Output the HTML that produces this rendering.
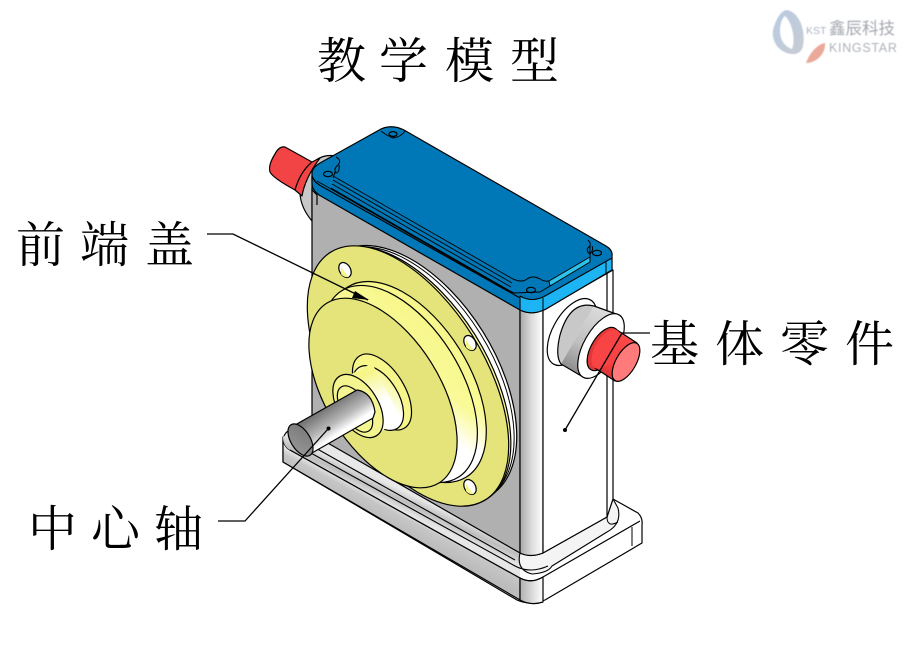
<!DOCTYPE html>
<html><head><meta charset="utf-8"><style>
html,body{margin:0;padding:0;background:#fff;width:908px;height:654px;overflow:hidden}
svg{display:block}
.t{font-family:"Liberation Serif","Noto Serif CJK SC",serif;font-size:49px;fill:#000}
</style></head><body>
<svg width="908" height="654" viewBox="0 0 908 654" xmlns="http://www.w3.org/2000/svg">
<defs>
<linearGradient id="corner" gradientUnits="userSpaceOnUse" x1="520" y1="0" x2="543" y2="0"><stop offset="0" stop-color="#a8a8a8"/><stop offset=".5" stop-color="#dcdcdc"/><stop offset="1" stop-color="#fff"/></linearGradient>
<linearGradient id="corner2" gradientUnits="userSpaceOnUse" x1="520" y1="0" x2="543" y2="0"><stop offset="0" stop-color="#b0b0b0"/><stop offset="1" stop-color="#fff"/></linearGradient>
<linearGradient id="baseg" gradientUnits="userSpaceOnUse" x1="409" y1="513" x2="400" y2="530"><stop offset="0" stop-color="#e6e6e6"/><stop offset=".35" stop-color="#c6c6c6"/><stop offset="1" stop-color="#bcbcbc"/></linearGradient>
<linearGradient id="baset" gradientUnits="userSpaceOnUse" x1="417" y1="497" x2="409" y2="514"><stop offset="0" stop-color="#e8e8e8"/><stop offset=".5" stop-color="#bdbdbd"/><stop offset="1" stop-color="#e6e6e6"/></linearGradient>
<linearGradient id="shaft" gradientUnits="userSpaceOnUse" x1="322" y1="408" x2="343" y2="440"><stop offset="0" stop-color="#6e6e6e"/><stop offset=".5" stop-color="#b8b8b8"/><stop offset=".8" stop-color="#fff"/><stop offset="1" stop-color="#fff"/></linearGradient>
<linearGradient id="endg" x1="0" y1="0" x2="1" y2="1"><stop offset="0" stop-color="#777"/><stop offset="1" stop-color="#999"/></linearGradient>
<linearGradient id="ring" gradientUnits="userSpaceOnUse" x1="420" y1="300" x2="480" y2="470"><stop offset="0" stop-color="#f6f68a"/><stop offset=".28" stop-color="#fafa98"/><stop offset=".46" stop-color="#fff"/><stop offset=".78" stop-color="#fff"/><stop offset="1" stop-color="#f4f48a"/></linearGradient>
<linearGradient id="hub" gradientUnits="userSpaceOnUse" x1="372" y1="372" x2="398" y2="438"><stop offset="0" stop-color="#f6f68a"/><stop offset=".42" stop-color="#fff"/><stop offset=".75" stop-color="#fff"/><stop offset="1" stop-color="#f4f48a"/></linearGradient>
<linearGradient id="redg" gradientUnits="userSpaceOnUse" x1="628" y1="334" x2="603" y2="378"><stop offset="0" stop-color="#ff4a4a"/><stop offset=".7" stop-color="#f84040"/><stop offset="1" stop-color="#c83030"/></linearGradient>
<linearGradient id="greyb" gradientUnits="userSpaceOnUse" x1="606" y1="310" x2="572" y2="370"><stop offset="0" stop-color="#dcdcdc"/><stop offset=".6" stop-color="#c0c0c0"/><stop offset="1" stop-color="#8f8f8f"/></linearGradient>
<linearGradient id="crescent" x1="0" y1="0" x2="1" y2="1"><stop offset="0" stop-color="#b8cbe4"/><stop offset="1" stop-color="#c8ccd2"/></linearGradient>
</defs>

<!-- Logo -->
<g style="filter:blur(.5px)">
<path d="M787,10 C799,12 806,30 803,46 C801,56 790,56 781,50 C772,43 771,32 775,24 C778,15 783,10 787,10Z" fill="url(#crescent)"/>
<path d="M785,16 C792,22 796,40 792,49 C785,47 780,40 780,31 C780,24 782,18 785,16Z" fill="#fff"/>
<path d="M806,63 C816,63 826,54 825,43 C818,44 810,52 806,63Z" fill="#eba99a"/>
<text x="806" y="34" font-family="'Liberation Sans',sans-serif" font-size="10.500" fill="#a9b4c4">KST</text>
<text x="829" y="34" font-family="'Liberation Sans','Noto Sans CJK SC',sans-serif" font-size="16.500" fill="#a4a8ae">鑫辰科技</text>
<text x="829" y="52" font-family="'Liberation Sans',sans-serif" font-size="12.500" letter-spacing=".7" fill="#aeb2b8">KINGSTAR</text>
</g>

<!-- Text -->
<text class="t" x="317" y="78">教</text><text class="t" x="379" y="78">学</text><text class="t" x="445" y="78">模</text><text class="t" x="510" y="78">型</text>
<text class="t" x="16" y="262">前</text><text class="t" x="80" y="262">端</text><text class="t" x="145" y="262">盖</text>
<text class="t" x="650" y="361">基</text><text class="t" x="715" y="361">体</text><text class="t" x="780" y="361">零</text><text class="t" x="845" y="361">件</text>
<text class="t" x="28" y="546">中</text><text class="t" x="91" y="546">心</text><text class="t" x="154" y="546">轴</text>

<g stroke="#000" stroke-width="1.200" stroke-linejoin="round">
<!-- Left rear boss -->
<path d="M300,194 Q301,208 312,221 L312,176 L330,165 L335,156 Q325,154 316,160 Z" fill="#c8c8c8"/>
<path d="M285,147 Q279,146 275,154 Q268,165 270,172 Q273,178 295,190 L302,196 Q305,178 320,158 L312,162 Z" fill="#f24444"/>
<path d="M312,162 Q300,172 295,190" fill="none"/>

<!-- Base -->
<path d="M283,442 Q283,433 291,429 L520,470 L613,499 L638,513 Q643,518 642,525 L642,543 L545,600 Q530,606 517,600 L283,462 Z" fill="#fff"/>
<path d="M283,437 Q283,446 290,450 L520,578 L520,600 L283,462 Z" fill="url(#baseg)"/>
<path d="M290,432 L312,434 L520,553 L520,578 L290,450 Q283,446 283,437 Z" fill="url(#baset)" stroke="none"/>
<path d="M520,578 Q531,584 543,577 L543,602 Q531,606 520,600 Z" fill="url(#corner2)"/>
<path d="M520,553 Q516,570 532,574 Q548,573 552,566 L607,532 Q622,524 618,508 L613,499 L607,517 L543,553 Q531,558 520,553 Z" fill="#f4f4f4" stroke-width="1.100"/>
<path d="M290,450 L520,578 Q531,584 543,577 L640,521" fill="none"/>
<path d="M300,447 L515,566 Q530,574 548,566 M312,446 L515,560" fill="none" stroke-width="1.100"/>
<path d="M632,527 L632,546" fill="none" stroke-width="1"/>
<path d="M607,517 Q607,528 618,522" fill="none" stroke-width="1"/>

<!-- Body -->
<path d="M312,188 L520,308 L520,553 L312,434 Z" fill="#b0b0b0"/>
<path d="M520,308 Q532,315 543,310 L543,553 Q530,558 520,553 Z" fill="url(#corner)"/>
<path d="M543,310 L613,270 L613,499 L607,517 L543,553 Z" fill="#fff"/>
<path d="M607,273 L607,518" fill="none"/>
<path d="M312,190 L317,195 L317,205" fill="none"/>

<!-- Lid -->
<path d="M312,172 Q313,167 320,163 L381,129 Q392,124 404,130 L606,246 Q613,250 612,256 L612,270 L546,309 Q532,316 520,310 L319,195 Q312,190 312,184 Z" fill="#0077b6"/>
<path d="M520,296 Q532,303 545,296 L612,258 L612,270 L546,309 Q532,316 520,310 Z" fill="#1cb4f2" stroke-width="1.100"/>
<path d="M312,176 Q314,182 321,186 L520,298" fill="none"/>
<path d="M520,296 L520,310 M543,298 L543,311 M606,262 L606,274" fill="none" stroke-width="1"/>
<path d="M333,176 L513,279 M333,180 L512,283 M332,184 L511,287 M331,188 L510,291 M317,181 L512,293" fill="none" stroke-width=".9"/>
<path d="M549,281 L590,257 L590,262 L550,286 Z" fill="#2cc4ea" stroke-width="1"/>
<path d="M513,279 Q522,283 527,279 Q533,275 540,279 Q545,282 549,281 M510,291 L514,293 L540,292 L550,286 M590,257 L590,245" fill="none" stroke-width="1"/>
<ellipse cx="531" cy="290" rx="4.500" ry="2.700" fill="none"/>
<ellipse cx="597" cy="253" rx="4.500" ry="2.700" fill="none"/>
<ellipse cx="328" cy="174" rx="4.500" ry="2.700" fill="none"/>
<ellipse cx="393" cy="134" rx="4" ry="2.400" fill="none"/>
<path d="M381,131 Q386,135 393,138 Q401,137 405,131" fill="none" stroke-width="1"/>
<path d="M336,157 Q342,160 338,165 Q333,169 336,173 Q340,172 339,165 M333,178 L335,172" fill="none" stroke-width="1"/>
<path d="M588,240 Q592,244 589,247 Q585,250 590,254 Q594,250 592,246" fill="none" stroke-width="1"/>

<!-- Right boss -->
<ellipse cx="572" cy="332" rx="37" ry="19" transform="rotate(-60 572 332)" fill="#fff"/>
<path d="M594,306 L619,315 L583,377 L561,364 Z" fill="url(#greyb)" stroke="none"/>
<path d="M594,306 Q570,300 560,335 Q555,356 561,364" fill="#c8c8c8"/>
<path d="M594,306 L619,315 M561,364 L583,377" fill="none"/>
<ellipse cx="601" cy="346" rx="36" ry="17" transform="rotate(-60 601 346)" fill="#fff"/>
<ellipse cx="603" cy="349" rx="24" ry="12" transform="rotate(-60 603 349)" fill="#e03838"/>
<path d="M617,330 L637,343 L615,381 L595,368 Z" fill="url(#redg)"/>
<ellipse cx="606" cy="349" rx="22" ry="11" transform="rotate(-60 606 349)" fill="#f84444" stroke="none"/>
<ellipse cx="626" cy="362" rx="21.600" ry="10" transform="rotate(-60 626 362)" fill="#ff7a7a"/>
<path d="M613,382 L613,397" stroke-width="1" fill="none"/>

<!-- Flange -->
<ellipse cx="415" cy="374" rx="143" ry="80" transform="rotate(58 415 374)" fill="#fff"/>
<ellipse cx="413" cy="375" rx="143" ry="79" transform="rotate(58 413 375)" fill="#fff" stroke-width="1"/>
<ellipse cx="410" cy="376" rx="145" ry="77" transform="rotate(58 410 376)" fill="#f6f6a0"/>
<ellipse cx="408" cy="376" rx="146" ry="76" transform="rotate(58 408 376)" fill="#e4e47a"/>
<g fill="#fff">
<ellipse cx="345" cy="270" rx="5.500" ry="8" transform="rotate(-30 345 270)"/>
<ellipse cx="470" cy="343" rx="5.500" ry="8" transform="rotate(-30 470 343)"/>
<ellipse cx="470" cy="487" rx="5.500" ry="8" transform="rotate(-30 470 487)"/>
</g>
<g fill="#f4f490" stroke="none">
<path d="M341,266 Q344,272 349,277 Q344,278 341,274 Z"/>
<path d="M466,339 Q469,345 474,350 Q469,351 466,347 Z"/>
<path d="M466,483 Q469,489 474,494 Q469,495 466,491 Z"/>
</g>
<ellipse cx="407" cy="382" rx="112" ry="62" transform="rotate(58 407 382)" fill="url(#ring)"/>
<ellipse cx="400" cy="384" rx="110" ry="60" transform="rotate(58 400 384)" fill="url(#ring)"/>
<ellipse cx="383" cy="393" rx="106" ry="57" transform="rotate(58 383 393)" fill="#e4e47a"/>

<!-- Hub -->
<ellipse cx="382" cy="392" rx="42.500" ry="22.500" transform="rotate(58 382 392)" fill="#f6f68a"/>
<ellipse cx="378" cy="398" rx="36" ry="20" transform="rotate(58 378 398)" fill="url(#hub)"/>
<path d="M346,377 L372,363 L400,418 L372,438 Z" fill="url(#hub)" stroke="none"/>
<ellipse cx="358" cy="406" rx="35" ry="20" transform="rotate(58 358 406)" fill="#f4f490"/>
<ellipse cx="355" cy="409" rx="26" ry="13" transform="rotate(58 355 409)" fill="#f4f490"/>

<!-- Shaft -->
<path d="M295,425 L357,390 Q372,392 375,412 L373,418 L312,453 Z" fill="url(#shaft)"/>
<ellipse cx="300.500" cy="440" rx="18" ry="9.600" transform="rotate(58 300.500 440)" fill="url(#endg)"/>
</g>

<!-- Leaders -->
<g fill="none" stroke="#000" stroke-width="1.300">
<path d="M207,234 L233,234 L368,300"/>
<path d="M218,521 L245,521 L328,429"/>
<path d="M650,333 L622,333 L565,430"/>
</g>
<path d="M369,300 L355,291 L352,298 Z" fill="#000"/>
<circle cx="328.500" cy="428.500" r="2" fill="#000"/>
<circle cx="565" cy="430" r="2" fill="#000"/>
</svg>
</body></html>
